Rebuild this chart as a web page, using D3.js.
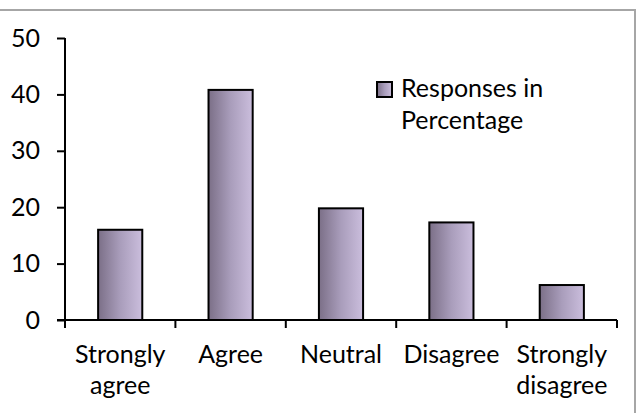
<!DOCTYPE html>
<html>
<head>
<meta charset="utf-8">
<script src="https://cdn.jsdelivr.net/npm/d3@7/dist/d3.min.js"></script>
<style>
  html, body { margin: 0; padding: 0; background: #fff; }
  svg { display: block; }
  text { font-family: Lato, "Liberation Sans", sans-serif; fill: #000; }
</style>
</head>
<body>
<svg id="chart" width="636" height="413"></svg>
<script>
const categories = [["Strongly", "agree"], ["Agree"], ["Neutral"], ["Disagree"], ["Strongly", "disagree"]];
const values = [16.0, 40.8, 19.8, 17.3, 6.2];
const yTicks = [0, 10, 20, 30, 40, 50];
const seriesName = ["Responses in", "Percentage"];

const W = 636, H = 413;
const svg = d3.select("#chart");
const fontSize = 25;

// frame
svg.append("line").attr("x1", 0).attr("x2", W).attr("y1", 10).attr("y2", 10)
  .attr("stroke", "#a6a6a6").attr("stroke-width", 2);
svg.append("line").attr("x1", 635).attr("x2", 635).attr("y1", 9).attr("y2", H)
  .attr("stroke", "#a6a6a6").attr("stroke-width", 2);

const defs = svg.append("defs");
const grad = defs.append("linearGradient").attr("id", "barGrad")
  .attr("x1", "0%").attr("x2", "100%").attr("y1", "0%").attr("y2", "0%");
grad.append("stop").attr("offset", "0%").attr("stop-color", "#7b6f87");
grad.append("stop").attr("offset", "50%").attr("stop-color", "#a99dbb");
grad.append("stop").attr("offset", "100%").attr("stop-color", "#cbbedd");

const x0 = 65, x1 = 617, yBottom = 320, yTop = 38;
const x = d3.scaleBand().domain(d3.range(categories.length)).range([x0, x1]).paddingInner(0.6).paddingOuter(0.3);
const y = d3.scaleLinear().domain([0, 50]).range([yBottom, yTop]);

// bars
svg.append("g").selectAll("rect").data(values).join("rect")
  .attr("x", (d, i) => x(i))
  .attr("width", x.bandwidth())
  .attr("y", d => y(d))
  .attr("height", d => y(0) - y(d))
  .attr("fill", "url(#barGrad)")
  .attr("stroke", "#000").attr("stroke-width", 2);

// y axis
const yAxis = d3.axisLeft(y).tickValues(yTicks).tickSize(8).tickPadding(17).tickSizeOuter(0);
const gy = svg.append("g").attr("transform", `translate(${x0},0)`).call(yAxis);
gy.select(".domain").attr("stroke", "#000").attr("stroke-width", 2).attr("d", `M0,${yTop}V${yBottom + 8}`);
gy.selectAll(".tick line").attr("stroke", "#000").attr("stroke-width", 2);
gy.selectAll(".tick text").attr("font-size", fontSize).attr("font-family", "Lato, sans-serif").attr("fill", "#000");

// x axis with ticks at band boundaries
const boundaries = d3.range(categories.length + 1).map(i => x0 + i * (x1 - x0) / categories.length);
svg.append("line").attr("x1", x0 - 8).attr("x2", x1).attr("y1", yBottom).attr("y2", yBottom)
  .attr("stroke", "#000").attr("stroke-width", 2);
svg.append("g").selectAll("line").data(boundaries).join("line")
  .attr("x1", d => d).attr("x2", d => d).attr("y1", yBottom).attr("y2", yBottom + 8)
  .attr("stroke", "#000").attr("stroke-width", 2);

// category labels
const lbl = svg.append("g").selectAll("text").data(categories).join("text")
  .attr("text-anchor", "middle")
  .attr("font-size", fontSize)
  .attr("x", (d, i) => x(i) + x.bandwidth() / 2)
  .attr("y", 363);
lbl.selectAll("tspan").data(d => d).join("tspan")
  .attr("x", function() { return d3.select(this.parentNode).attr("x"); })
  .attr("dy", (d, i) => i === 0 ? 0 : 31)
  .text(d => d);

// legend
const lg = svg.append("g");
lg.append("rect").attr("x", 377).attr("y", 82).attr("width", 15).attr("height", 15)
  .attr("fill", "url(#barGrad)").attr("stroke", "#000").attr("stroke-width", 2);
lg.append("text").attr("font-size", fontSize).attr("x", 401).attr("y", 97)
  .selectAll("tspan").data(seriesName).join("tspan")
  .attr("x", 401).attr("dy", (d, i) => i === 0 ? 0 : 32).text(d => d);
</script>
</body>
</html>
